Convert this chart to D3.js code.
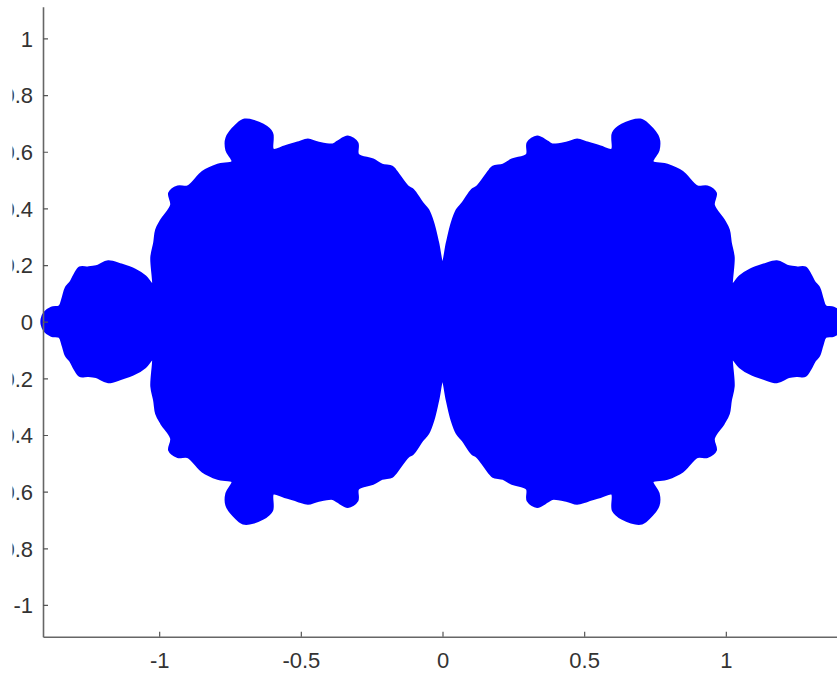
<!DOCTYPE html>
<html>
<head>
<meta charset="utf-8">
<script src="https://cdn.jsdelivr.net/npm/d3@7"></script>
<style>
  body { margin: 0; background: #fff; }
  svg { display: block; }
  .tick text { font-family: "Liberation Sans", Arial, sans-serif; font-size: 22px; fill: #333; }
</style>
</head>
<body>
<svg width="837" height="675"></svg>
<script>
// outline of the upper right quarter of the point cloud
// (from the cusp on the y axis, clockwise, down to the right tip near the x axis)
var quarterX = [0, 0.017, 0.034, 0.052, 0.073, 0.105, 0.122, 0.168, 0.179, 0.214, 0.246, 0.299,
    0.302, 0.334, 0.370, 0.387, 0.440, 0.475, 0.511, 0.557, 0.599, 0.603, 0.634, 0.698,
    0.726, 0.761, 0.761, 0.740, 0.793, 0.846, 0.899, 0.934, 0.963, 0.956, 0.991, 1.009,
    1.016, 1.026, 1.023, 1.050, 1.086, 1.134, 1.180, 1.222, 1.251, 1.280, 1.298, 1.311,
    1.328, 1.339, 1.351, 1.380, 1.404, 1.413];
var quarterY = [0.200, 0.278, 0.348, 0.394, 0.419, 0.465, 0.475, 0.535, 0.546, 0.553, 0.571, 0.589,
    0.631, 0.652, 0.634, 0.624, 0.631, 0.641, 0.631, 0.617, 0.606, 0.666, 0.694, 0.712,
    0.694, 0.648, 0.606, 0.564, 0.553, 0.528, 0.476, 0.476, 0.454, 0.412, 0.359, 0.324,
    0.278, 0.228, 0.130, 0.159, 0.182, 0.200, 0.212, 0.194, 0.190, 0.190, 0.165, 0.140,
    0.119, 0.084, 0.053, 0.048, 0.031, 0.010];
var xTicks = [-1, -0.5, 0, 0.5, 1];
var xTickLabels = ["-1", "-0.5", "0", "0.5", "1"];
var yTicks = [-1, -0.8, -0.6, -0.4, -0.2, 0, 0.2, 0.4, 0.6, 0.8, 1];
var yTickLabels = ["-1", "-0.8", "-0.6", "-0.4", "-0.2", "0", "0.2", "0.4", "0.6", "0.8", "1"];

var svg = d3.select("svg");
var x = d3.scaleLinear().domain([-1.41, 1.41]).range([43, 842]);
var y = d3.scaleLinear().domain([-1.112, 1.112]).range([636.7, 6.7]);

// the set is symmetric about both axes: reflect the quarter to get the whole outline
var q = quarterX.map(function (v, i) { return [v, quarterY[i]]; });
var outline = []
    .concat(q)
    .concat(q.slice().reverse().map(function (p) { return [p[0], -p[1]]; }))
    .concat(q.slice(1).map(function (p) { return [-p[0], -p[1]]; }))
    .concat(q.slice(1).reverse().map(function (p) { return [-p[0], p[1]]; }));

var line = d3.line()
    .x(function (d) { return x(d[0]); })
    .y(function (d) { return y(d[1]); })
    .curve(d3.curveCatmullRomClosed.alpha(0.5));

svg.append("path")
    .datum(outline)
    .attr("d", line)
    .attr("fill", "#0000ff")
    .attr("stroke", "#0000ff")
    .attr("stroke-width", 3)
    .attr("stroke-linejoin", "round");

// labels on the left are cut by the page edge in the original
var left = x(-1.41);
svg.append("defs").append("clipPath").attr("id", "ycut")
    .append("rect").attr("x", 12.5 - left).attr("y", 0).attr("width", 900).attr("height", 675);

var gx = svg.append("g")
    .attr("transform", "translate(0," + y(-1.112) + ")")
    .call(d3.axisBottom(x).tickValues(xTicks)
        .tickFormat(function (d, i) { return xTickLabels[i]; })
        .tickSizeInner(-5).tickSizeOuter(0).tickPadding(16));

var gy = svg.append("g")
    .attr("transform", "translate(" + left + ",0)")
    .attr("clip-path", "url(#ycut)")
    .call(d3.axisLeft(y).tickValues(yTicks)
        .tickFormat(function (d, i) { return yTickLabels[i]; })
        .tickSizeInner(-5).tickSizeOuter(0).tickPadding(10));

[gx, gy].forEach(function (g) {
    g.select(".domain").attr("stroke", "#666").attr("stroke-width", 1.6);
    g.selectAll(".tick line").attr("stroke", "#555").attr("stroke-width", 1.2);
});
gy.selectAll(".tick text").attr("dy", "0.35em");
gx.selectAll(".tick text").attr("dy", "0.71em");
</script>
</body>
</html>
